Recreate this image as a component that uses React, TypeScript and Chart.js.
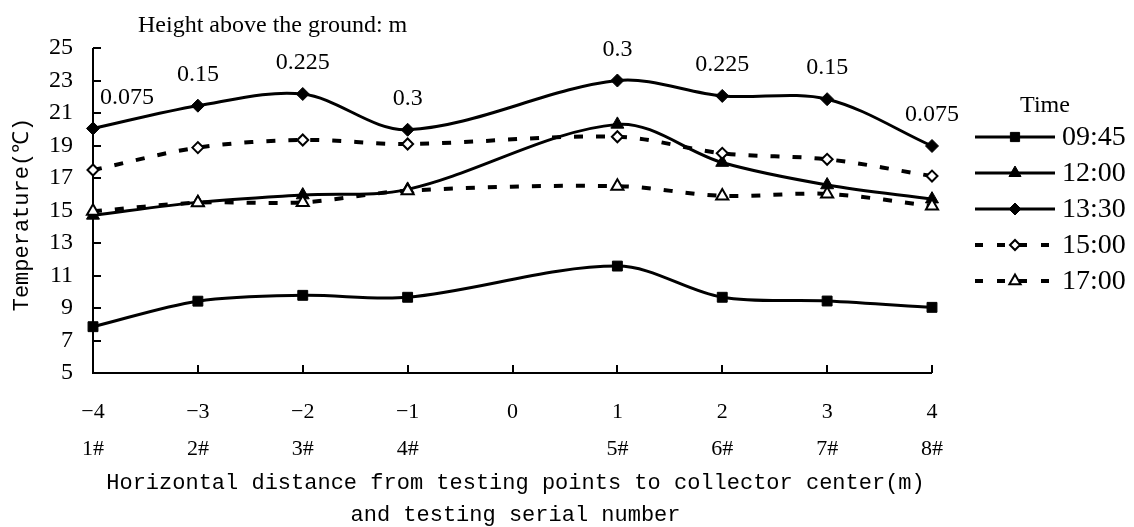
import React, { useEffect, useRef } from "react";
import { Chart, registerables } from "chart.js";

Chart.register(...registerables);

// ---- data ----
const distances = [-4, -3, -2, -1, 1, 2, 3, 4];
const xTickValues = [-4, -3, -2, -1, 0, 1, 2, 3, 4];
const serialNumbers = ["1#", "2#", "3#", "4#", "", "5#", "6#", "7#", "8#"];
const heightLabels = ["0.075", "0.15", "0.225", "0.3", "0.3", "0.225", "0.15", "0.075"];
const timeNames = ["09:45", "12:00", "13:30", "15:00", "17:00"];
const temp0945 = [7.85, 9.42, 9.78, 9.66, 11.58, 9.66, 9.43, 9.04];
const temp1200 = [14.7, 15.5, 15.95, 16.3, 20.3, 17.95, 16.57, 15.7];
const temp1330 = [20.05, 21.45, 22.17, 19.97, 23.0, 22.05, 21.85, 18.97];
const temp1500 = [17.49, 18.87, 19.34, 19.09, 19.54, 18.52, 18.15, 17.12];
const temp1700 = [14.95, 15.48, 15.5, 16.22, 16.5, 15.9, 16.02, 15.28];
const yMin = 5;
const yMax = 25;
const yStep = 2;

const headerText = "Height above the ground: m";
const yTitle = "Temperature(℃)";
const xTitleLines = [
  "Horizontal distance from testing points to collector center(m)",
  "and testing serial number",
];
const legendTitle = "Time";

const SERIF = '"Liberation Serif", "Times New Roman", serif';
const MONO = '"Liberation Mono", "DejaVu Sans Mono", monospace';

type MarkerStyle = "rect" | "rectRot" | "triangle";

function drawMarker(
  ctx: CanvasRenderingContext2D,
  style: MarkerStyle,
  x: number,
  y: number,
  r: number,
  fill: string,
  bw: number
) {
  ctx.save();
  ctx.setLineDash([]);
  ctx.beginPath();
  if (style === "rect") {
    const s = r * Math.SQRT1_2;
    ctx.rect(x - s, y - s, 2 * s, 2 * s);
  } else if (style === "rectRot") {
    ctx.moveTo(x - r, y);
    ctx.lineTo(x, y - r);
    ctx.lineTo(x + r, y);
    ctx.lineTo(x, y + r);
    ctx.closePath();
  } else {
    ctx.moveTo(x, y - r);
    ctx.lineTo(x + 0.866 * r, y + 0.5 * r);
    ctx.lineTo(x - 0.866 * r, y + 0.5 * r);
    ctx.closePath();
  }
  ctx.fillStyle = fill;
  ctx.fill();
  ctx.lineWidth = bw;
  ctx.strokeStyle = "#000";
  ctx.stroke();
  ctx.restore();
}

const seriesValues = [temp0945, temp1200, temp1330, temp1500, temp1700];
const seriesStyles = [
  { marker: "rect" as MarkerStyle, radius: 7, fill: "#000", bw: 1, dash: [] as number[], width: 3, order: 4 },
  { marker: "triangle" as MarkerStyle, radius: 7.5, fill: "#000", bw: 1, dash: [] as number[], width: 3, order: 3 },
  { marker: "rectRot" as MarkerStyle, radius: 6.5, fill: "#000", bw: 1, dash: [] as number[], width: 3, order: 2 },
  { marker: "rectRot" as MarkerStyle, radius: 5.5, fill: "#fff", bw: 2, dash: [9, 13], width: 4, order: 1 },
  { marker: "triangle" as MarkerStyle, radius: 7, fill: "#fff", bw: 2, dash: [9, 13], width: 4, order: 0 },
];

const fmt = (v: number) => (v < 0 ? "\u2212" + Math.abs(v) : String(v));

const decorPlugin = {
  id: "decor",
  beforeDatasetsDraw(chart: any) {
    const { ctx, chartArea: a, scales } = chart;
    ctx.save();
    ctx.strokeStyle = "#000";
    ctx.lineWidth = 2;
    ctx.setLineDash([]);
    ctx.beginPath();
    ctx.moveTo(a.left, a.top);
    ctx.lineTo(a.left, a.bottom);
    ctx.lineTo(a.right, a.bottom);
    scales.y.ticks.forEach((t: any) => {
      const y = Math.round(scales.y.getPixelForValue(t.value));
      ctx.moveTo(a.left, y);
      ctx.lineTo(a.left + 8, y);
    });
    scales.x.ticks.forEach((t: any) => {
      const x = Math.round(scales.x.getPixelForValue(t.value));
      ctx.moveTo(x, a.bottom);
      ctx.lineTo(x, a.bottom - 8);
    });
    ctx.stroke();
    ctx.restore();
  },
  afterDraw(chart: any) {
    const { ctx, chartArea: a } = chart;
    ctx.save();
    ctx.fillStyle = "#000";

    // header
    ctx.font = `24px ${SERIF}`;
    ctx.textAlign = "left";
    ctx.textBaseline = "middle";
    ctx.fillText(headerText, a.left + 45, 26);

    // height labels above 13:30 points
    const meta = chart.getDatasetMeta(2);
    ctx.font = `24px ${SERIF}`;
    ctx.textAlign = "center";
    meta.data.forEach((pt: any, i: number) => {
      const label = heightLabels[i];
      const w = ctx.measureText(label).width;
      let x = pt.x;
      if (x - w / 2 < a.left + 6) x = a.left + 7 + w / 2;
      ctx.fillText(label, x, pt.y - 31);
    });

    // y title
    ctx.save();
    ctx.translate(22, (a.top + a.bottom) / 2 + 4);
    ctx.rotate(-Math.PI / 2);
    ctx.font = `22px ${MONO}`;
    ctx.textAlign = "center";
    ctx.textBaseline = "middle";
    ctx.fillText(yTitle, 0, 0);
    ctx.restore();

    // x title
    ctx.font = `22px ${MONO}`;
    ctx.textAlign = "center";
    ctx.textBaseline = "middle";
    const cx = (a.left + a.right) / 2 + 3;
    xTitleLines.forEach((line, i) => {
      ctx.fillText(line, cx, a.bottom + 110 + i * 32);
    });

    // legend
    const lx = a.right + 43;
    const lineLen = 80;
    ctx.font = `24px ${SERIF}`;
    ctx.textAlign = "center";
    ctx.fillText(legendTitle, lx + 70, 106);
    timeNames.forEach((name, i) => {
      const st = seriesStyles[i];
      const y = 137 + i * 36;
      ctx.save();
      ctx.strokeStyle = "#000";
      ctx.lineWidth = st.width;
      ctx.setLineDash(st.dash.length ? [8, 14] : []);
      ctx.lineDashOffset = 0;
      ctx.beginPath();
      ctx.moveTo(lx, y);
      ctx.lineTo(lx + lineLen, y);
      ctx.stroke();
      ctx.restore();
      drawMarker(ctx, st.marker, lx + lineLen / 2, y, st.radius - 0.5, st.fill, st.bw);
      ctx.font = `28px ${SERIF}`;
      ctx.textAlign = "left";
      ctx.textBaseline = "middle";
      ctx.fillText(name, lx + lineLen + 7, y + 1);
    });
    ctx.restore();
  },
};

export default function App() {
  const ref = useRef<HTMLCanvasElement | null>(null);

  useEffect(() => {
    if (!ref.current) return;
    const datasets = timeNames.map((name, i) => {
      const st = seriesStyles[i];
      return {
        label: name,
        data: distances.map((x, j) => ({ x, y: seriesValues[i][j] })),
        borderColor: "#000",
        borderWidth: st.width,
        borderDash: st.dash,
        borderCapStyle: "butt" as const,
        tension: 0.33,
        fill: false,
        pointStyle: st.marker,
        pointRadius: st.radius,
        pointBackgroundColor: st.fill,
        pointBorderColor: "#000",
        pointBorderWidth: st.bw,
        clip: false as any,
        order: st.order,
      };
    });

    const chart = new Chart(ref.current, {
      type: "line",
      data: { datasets },
      plugins: [decorPlugin],
      options: {
        animation: false,
        responsive: false,
        events: [],
        layout: { padding: { left: 0, top: 48, right: 202, bottom: 0 } },
        plugins: {
          legend: { display: false },
          tooltip: { enabled: false },
          title: { display: false },
        },
        scales: {
          x: {
            type: "linear",
            min: -4,
            max: 4,
            grid: { display: false, drawTicks: false },
            border: { display: false },
            afterBuildTicks: (scale: any) => {
              scale.ticks = xTickValues.map((v) => ({ value: v }));
            },
            afterFit: (scale: any) => {
              scale.height = 154;
            },
            ticks: {
              color: "#000",
              padding: 21,
              maxRotation: 0,
              autoSkip: false,
              font: { family: SERIF, size: 22, lineHeight: 37 / 22 },
              callback: (v: any) => {
                const i = xTickValues.indexOf(Number(v));
                return [fmt(Number(v)), serialNumbers[i] ?? ""];
              },
            },
          },
          y: {
            type: "linear",
            min: yMin,
            max: yMax,
            grid: { display: false, drawTicks: false },
            border: { display: false },
            afterFit: (scale: any) => {
              scale.width = 93;
            },
            ticks: {
              stepSize: yStep,
              color: "#000",
              padding: 20,
              font: { family: SERIF, size: 24 },
            },
          },
        },
      },
    });
    return () => chart.destroy();
  }, []);

  return (
    <div style={{ position: "absolute", left: 0, top: 0, width: 1134, height: 527, background: "#fff" }}>
      <canvas ref={ref} width={1134} height={527} style={{ display: "block" }} />
    </div>
  );
}
